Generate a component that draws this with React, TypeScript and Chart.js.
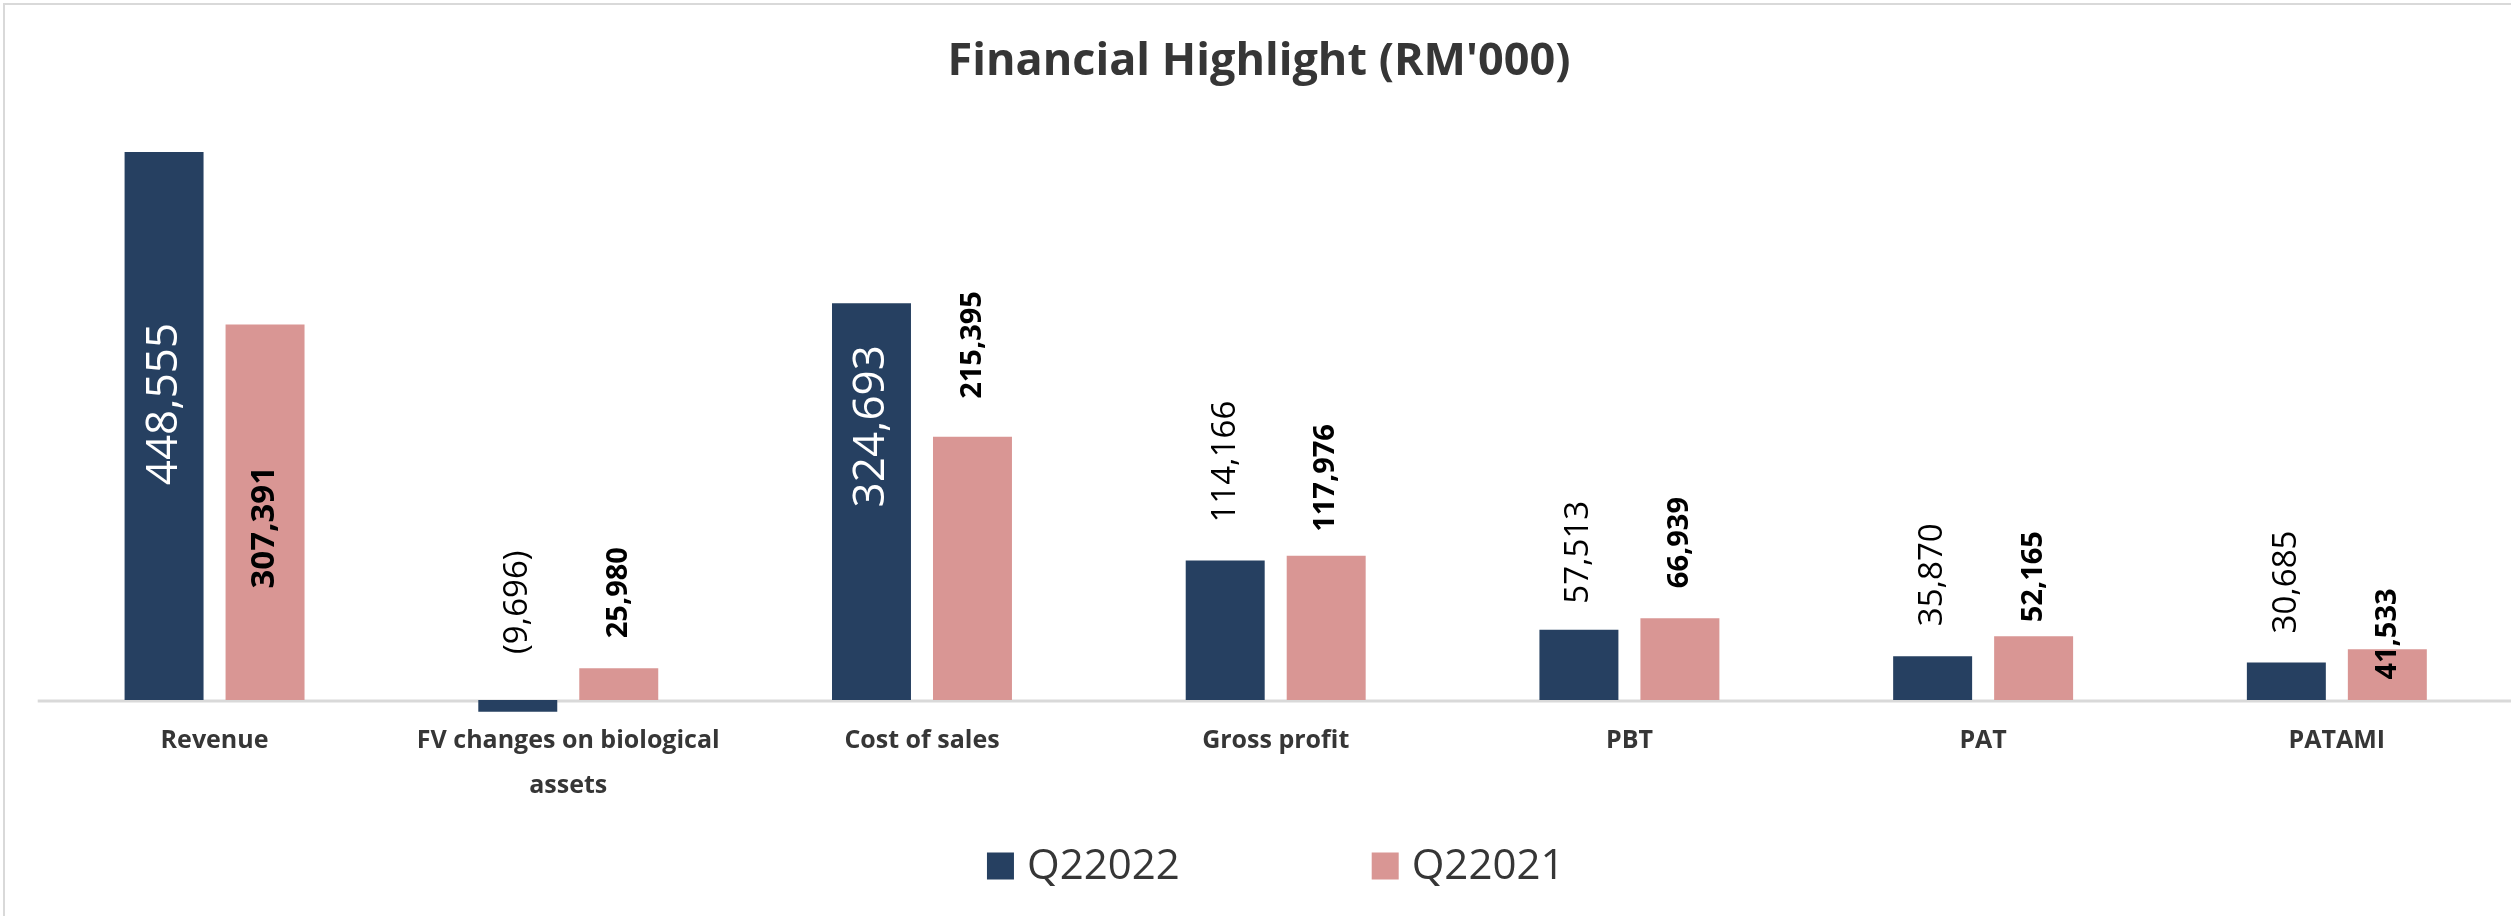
import React, { useEffect, useRef } from "react";
import { Chart, registerables } from "chart.js";

Chart.register(...registerables);

// ---------- data ----------
const categories: (string | string[])[] = [
  "Revenue",
  ["FV changes on biological", "assets"],
  "Cost of sales",
  "Gross profit",
  "PBT",
  "PAT",
  "PATAMI",
];
const seriesNames = ["Q22022", "Q22021"];
const q22022 = [448555, -9696, 324693, 114166, 57513, 35870, 30685];
const q22021 = [307391, 25980, 215395, 117976, 66939, 52165, 41533];
const chartTitle = "Financial Highlight (RM'000)";

// ---------- style ----------
const NAVY = "#264061";
const PINK = "#D99694";
const TEXT = "#363636";
const FONT = '"Open Sans", "Liberation Sans", sans-serif';

// label placement per series: 'in' = inside bar at fraction from top; 'out' = above bar with gap
const LABEL_STYLE = [
  {
    bold: false,
    place: [
      { mode: "in", frac: 0.46, size: 44 },
      { mode: "out", gap: 46, size: 33 },
      { mode: "in", frac: 0.31, size: 44 },
      { mode: "out", gap: 38, size: 33 },
      { mode: "out", gap: 26, size: 33 },
      { mode: "out", gap: 30, size: 33 },
      { mode: "out", gap: 29, size: 33 },
    ],
  },
  {
    bold: true,
    place: [
      { mode: "in", frac: 0.54, size: 33 },
      { mode: "out", gap: 30, size: 29 },
      { mode: "out", gap: 38, size: 29 },
      { mode: "out", gap: 24, size: 29 },
      { mode: "out", gap: 30, size: 29 },
      { mode: "out", gap: 14, size: 29 },
      { mode: "in", frac: -0.3, size: 29 },
    ],
  },
];

function fmt(v: number): string {
  const s = Math.abs(v).toLocaleString("en-US");
  return v < 0 ? `(${s})` : s;
}

const framePlugin = {
  id: "frame",
  beforeDraw(chart: any) {
    const ctx = chart.ctx;
    ctx.save();
    ctx.fillStyle = "#ffffff";
    ctx.fillRect(0, 0, chart.width, chart.height);
    ctx.strokeStyle = "#d9d9d9";
    ctx.lineWidth = 2;
    ctx.strokeRect(4, 4, chart.width + 20, chart.height + 20);
    // title
    ctx.fillStyle = TEXT;
    ctx.font = `bold 45px ${FONT}`;
    ctx.textAlign = "center";
    ctx.textBaseline = "middle";
    ctx.fillText(chartTitle, 1259, 62);
    ctx.restore();
  },
  beforeDatasetsDraw(chart: any) {
    const ctx = chart.ctx;
    const y = chart.scales.y.getPixelForValue(0);
    ctx.save();
    ctx.strokeStyle = "#d9d9d9";
    ctx.lineWidth = 3;
    ctx.beginPath();
    ctx.moveTo(chart.chartArea.left, y + 1);
    ctx.lineTo(chart.width, y + 1);
    ctx.stroke();
    ctx.restore();
  },
};

const labelPlugin = {
  id: "barLabels",
  afterDatasetsDraw(chart: any) {
    const ctx = chart.ctx;
    chart.data.datasets.forEach((ds: any, di: number) => {
      const meta = chart.getDatasetMeta(di);
      const st = LABEL_STYLE[di];
      meta.data.forEach((bar: any, i: number) => {
        const v = ds.data[i] as number;
        const { x, y, base } = bar.getProps(["x", "y", "base"], true);
        const top = Math.min(y, base);
        const bottom = Math.max(y, base);
        const p: any = st.place[i];
        ctx.save();
        ctx.font = `${st.bold ? "bold " : ""}${p.size}px ${FONT}`;
        ctx.textBaseline = "middle";
        if (p.mode === "in") {
          ctx.fillStyle = di === 0 ? "#ffffff" : "#000000";
          const cy = top + (bottom - top) * p.frac;
          ctx.translate(x, cy);
          ctx.rotate(-Math.PI / 2);
          ctx.textAlign = "center";
        } else {
          ctx.fillStyle = "#000000";
          ctx.translate(x, top - p.gap);
          ctx.rotate(-Math.PI / 2);
          ctx.textAlign = "left";
        }
        ctx.fillText(fmt(v), 0, 0);
        ctx.restore();
      });
    });
  },
};

const legendPlugin = {
  id: "customLegend",
  afterDraw(chart: any) {
    const ctx = chart.ctx;
    const box = 27;
    const gap = 13;
    const itemGap = 192;
    const cy = 866;
    ctx.save();
    ctx.font = `42px ${FONT}`;
    const items = chart.data.datasets.map((ds: any) => ({
      label: ds.label as string,
      color: ds.backgroundColor as string,
      w: ctx.measureText(ds.label).width,
    }));
    const total =
      items.reduce((s: number, it: any) => s + box + gap + it.w, 0) +
      itemGap * (items.length - 1);
    let x = (chart.chartArea.left + chart.chartArea.right) / 2 - total / 2;
    items.forEach((it: any) => {
      ctx.fillStyle = it.color;
      ctx.fillRect(x, cy - box / 2, box, box);
      ctx.fillStyle = TEXT;
      ctx.textBaseline = "middle";
      ctx.textAlign = "left";
      ctx.fillText(it.label, x + box + gap, cy + 1);
      x += box + gap + it.w + itemGap;
    });
    ctx.restore();
  },
};

export default function App() {
  const canvasRef = useRef<HTMLCanvasElement | null>(null);

  useEffect(() => {
    if (!canvasRef.current) return;
    const chart = new Chart(canvasRef.current, {
      type: "bar",
      data: {
        labels: categories,
        datasets: [
          {
            label: seriesNames[0],
            data: q22022,
            backgroundColor: NAVY,
            borderWidth: 0,
            categoryPercentage: 0.571,
            barPercentage: 0.782,
          },
          {
            label: seriesNames[1],
            data: q22021,
            backgroundColor: PINK,
            borderWidth: 0,
            categoryPercentage: 0.571,
            barPercentage: 0.782,
          },
        ],
      },
      options: {
        responsive: true,
        maintainAspectRatio: false,
        animation: false,
        devicePixelRatio: 1,
        layout: { padding: { left: 37.7, right: 16.3, top: 89.1, bottom: 101.2 } },
        plugins: {
          legend: { display: false },
          tooltip: { enabled: false },
          title: { display: false },
        },
        scales: {
          x: {
            offset: true,
            grid: { display: false, drawTicks: false },
            border: { display: false },
            ticks: {
              color: TEXT,
              padding: 6.3,
              maxRotation: 0,
              autoSkip: false,
              font: { family: FONT, size: 25, weight: "bold", lineHeight: 1.8 },
            },
          },
          y: {
            display: false,
            min: -10000,
            max: 500000,
          },
        },
      },
      plugins: [framePlugin, labelPlugin, legendPlugin],
    });
    return () => chart.destroy();
  }, []);

  return (
    <div
      style={{
        position: "fixed",
        left: 0,
        top: 0,
        width: 2511,
        height: 916,
        overflow: "hidden",
        background: "#ffffff",
      }}
    >
      <div style={{ position: "relative", width: 2530, height: 916 }}>
        <canvas ref={canvasRef} />
      </div>
    </div>
  );
}
